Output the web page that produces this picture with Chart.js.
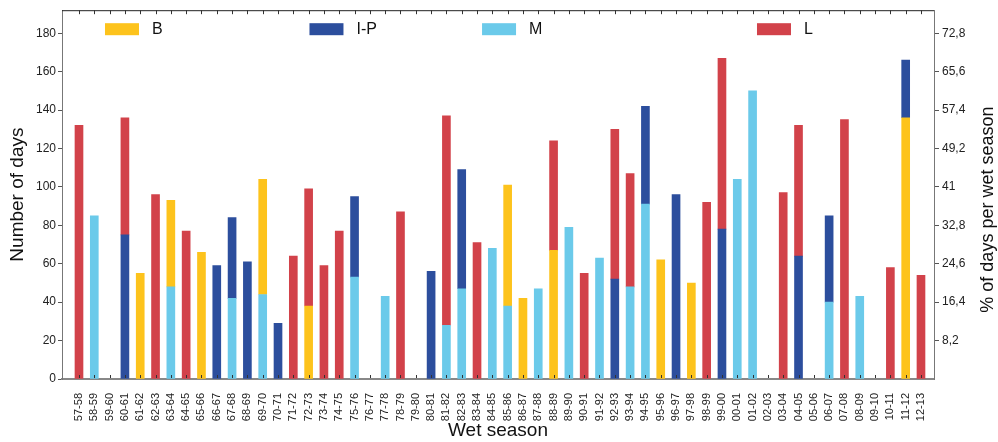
<!DOCTYPE html>
<html><head><meta charset="utf-8">
<script src="https://cdn.jsdelivr.net/npm/chart.js@4.4.1/dist/chart.umd.min.js"></script>
<style>html,body{margin:0;padding:0;background:#fff;} #wrap{width:998px;height:442px;position:relative;}</style>
</head><body><div id="wrap"><canvas id="c"></canvas></div>
<script>
const seasons = ["57-58","58-59","59-60","60-61","61-62","62-63","63-64","64-65","65-66","66-67","67-68","68-69","69-70","70-71","71-72","72-73","73-74","74-75","75-76","76-77","77-78","78-79","79-80","80-81","81-82","82-83","83-84","84-85","85-86","86-87","87-88","88-89","89-90","90-91","91-92","92-93","93-94","94-95","95-96","96-97","97-98","98-99","99-00","00-01","01-02","02-03","03-04","04-05","05-06","06-07","07-08","08-09","09-10","10-11","11-12","12-13"];
const valuesM  = [0,85,0,0,0,0,48,0,0,0,42,0,44,0,0,0,0,0,53,0,43,0,0,0,28,47,0,68,38,0,47,0,79,0,63,0,48,91,0,0,0,0,0,104,150,0,0,0,0,40,0,43,0,0,0,0];
const valuesB  = [0,0,0,0,55,0,45,0,66,0,0,0,60,0,0,38,0,0,0,0,0,0,0,0,0,0,0,0,63,42,0,67,0,0,0,0,0,0,62,0,50,0,0,0,0,0,0,0,0,0,0,0,0,0,136,0];
const valuesIP = [0,0,0,75,0,0,0,0,0,59,42,61,0,29,0,0,0,0,42,0,0,0,0,56,0,62,0,0,0,0,0,0,0,0,0,52,0,51,0,96,0,0,78,0,0,0,0,64,0,45,0,0,0,0,30,0];
const valuesL  = [132,0,0,61,0,96,0,77,0,0,0,0,0,0,64,61,59,77,0,0,0,87,0,0,109,0,71,0,0,0,0,57,0,55,0,78,59,0,0,0,0,92,89,0,0,0,97,68,0,0,135,0,0,58,0,54];
const leftTicks = [0,20,40,60,80,100,120,140,160,180];
const rightTickValues = [20,40,60,80,100,120,140,160,180];
const rightTickLabels = ["8,2","16,4","24,6","32,8","41","49,2","57,4","65,6","72,8"];
const legendOrder = ["B","I-P","M","L"];

const COLORS = {"B":"#FDC31C","I-P":"#2C4E9D","M":"#6BCAEA","L":"#D2424A"};
const FONT = '"Liberation Sans", Arial, Helvetica, sans-serif';

function toPts(arr){ return arr.map((v,i)=>({x:i, y: v ? v : null})); }

const legendPos = {"B":0.0493,"I-P":0.2838,"M":0.4817,"L":0.797};

const decor = {
  id:'decor',
  afterDatasetsDraw(chart){
    const ctx = chart.ctx, a = chart.chartArea, xs = chart.scales.x;
    ctx.save();
    ctx.strokeStyle = '#222'; ctx.lineWidth = 1;
    ctx.beginPath(); ctx.moveTo(a.left, a.top+0.5); ctx.lineTo(a.right, a.top+0.5); ctx.stroke();
    ctx.beginPath();
    seasons.forEach((s,i)=>{
      const px = Math.round(xs.getPixelForValue(i))+0.5;
      ctx.moveTo(px, a.top); ctx.lineTo(px, a.top+4);
      ctx.moveTo(px, a.bottom-1); ctx.lineTo(px, a.bottom-4);
    });
    ctx.strokeStyle = '#333'; ctx.stroke();
    // legend
    ctx.font = '16px ' + FONT; ctx.textBaseline = 'middle'; ctx.textAlign='left';
    legendOrder.forEach(k=>{
      const bx = a.left + legendPos[k]*(a.right-a.left);
      ctx.fillStyle = COLORS[k];
      ctx.fillRect(bx, a.top+13, 34, 12);
      ctx.fillStyle = '#111';
      ctx.fillText(k, bx+47, a.top+19.5);
    });
    // right title
    ctx.translate(chart.width-10, (a.top+a.bottom)/2+15);
    ctx.rotate(-Math.PI/2);
    ctx.textAlign='center'; ctx.font = '18px ' + FONT; ctx.fillStyle='#111';
    ctx.fillText('% of days per wet season', 0, 0);
    ctx.restore();
  }
};

new Chart(document.getElementById('c'), {
  type:'bar',
  data:{
    datasets:[
      {label:'M', data:toPts(valuesM), backgroundColor:COLORS['M']},
      {label:'B', data:toPts(valuesB), backgroundColor:COLORS['B']},
      {label:'I-P', data:toPts(valuesIP), backgroundColor:COLORS['I-P']},
      {label:'L', data:toPts(valuesL), backgroundColor:COLORS['L']}
    ]
  },
  options:{
    responsive:true, maintainAspectRatio:false, animation:false,
    layout:{padding:{top:7,left:0,right:0,bottom:0}},
    datasets:{bar:{barThickness:8, borderWidth:0}},
    plugins:{legend:{display:false}, tooltip:{enabled:false}},
    scales:{
      x:{type:'linear', stacked:true, min:-1.11, max:55.85, offset:false,
        afterBuildTicks:(s)=>{ s.ticks = seasons.map((c,i)=>({value:i})); },
        afterFit:(s)=>{ s.height = 63; },
        ticks:{autoSkip:false, maxRotation:90, minRotation:90, padding:6, color:'#222',
          font:{family:FONT, size:11}, callback:(v)=>seasons[v] ?? ''},
        grid:{display:false},
        border:{display:true, color:'#888', width:2},
        title:{display:true, text:'Wet season', color:'#111', font:{family:FONT, size:19}, padding:{top:0,bottom:0}}
      },
      y:{stacked:true, position:'left', min:0, max:192,
        afterBuildTicks:(s)=>{ s.ticks = leftTicks.map(v=>({value:v})); },
        afterFit:(s)=>{ s.width = 62; },
        ticks:{padding:2, color:'#222', font:{family:FONT, size:12}},
        grid:{drawOnChartArea:false, drawTicks:true, tickLength:4, color:'#555'},
        border:{display:true, color:'#777', width:1},
        title:{display:true, text:'Number of days', color:'#111', font:{family:FONT, size:19}, padding:{top:6,bottom:0}}
      },
      y2:{position:'right', min:0, max:192,
        afterBuildTicks:(s)=>{ s.ticks = rightTickValues.map(v=>({value:v})); },
        afterFit:(s)=>{ s.width = 64; },
        ticks:{padding:3, color:'#222', font:{family:FONT, size:12},
          callback:(v)=>{ const k = rightTickValues.indexOf(v); return k>=0 ? rightTickLabels[k] : ''; }},
        grid:{drawOnChartArea:false, drawTicks:true, tickLength:5, color:'#555'},
        border:{display:true, color:'#777', width:1}
      }
    }
  },
  plugins:[decor]
});
</script></body></html>
